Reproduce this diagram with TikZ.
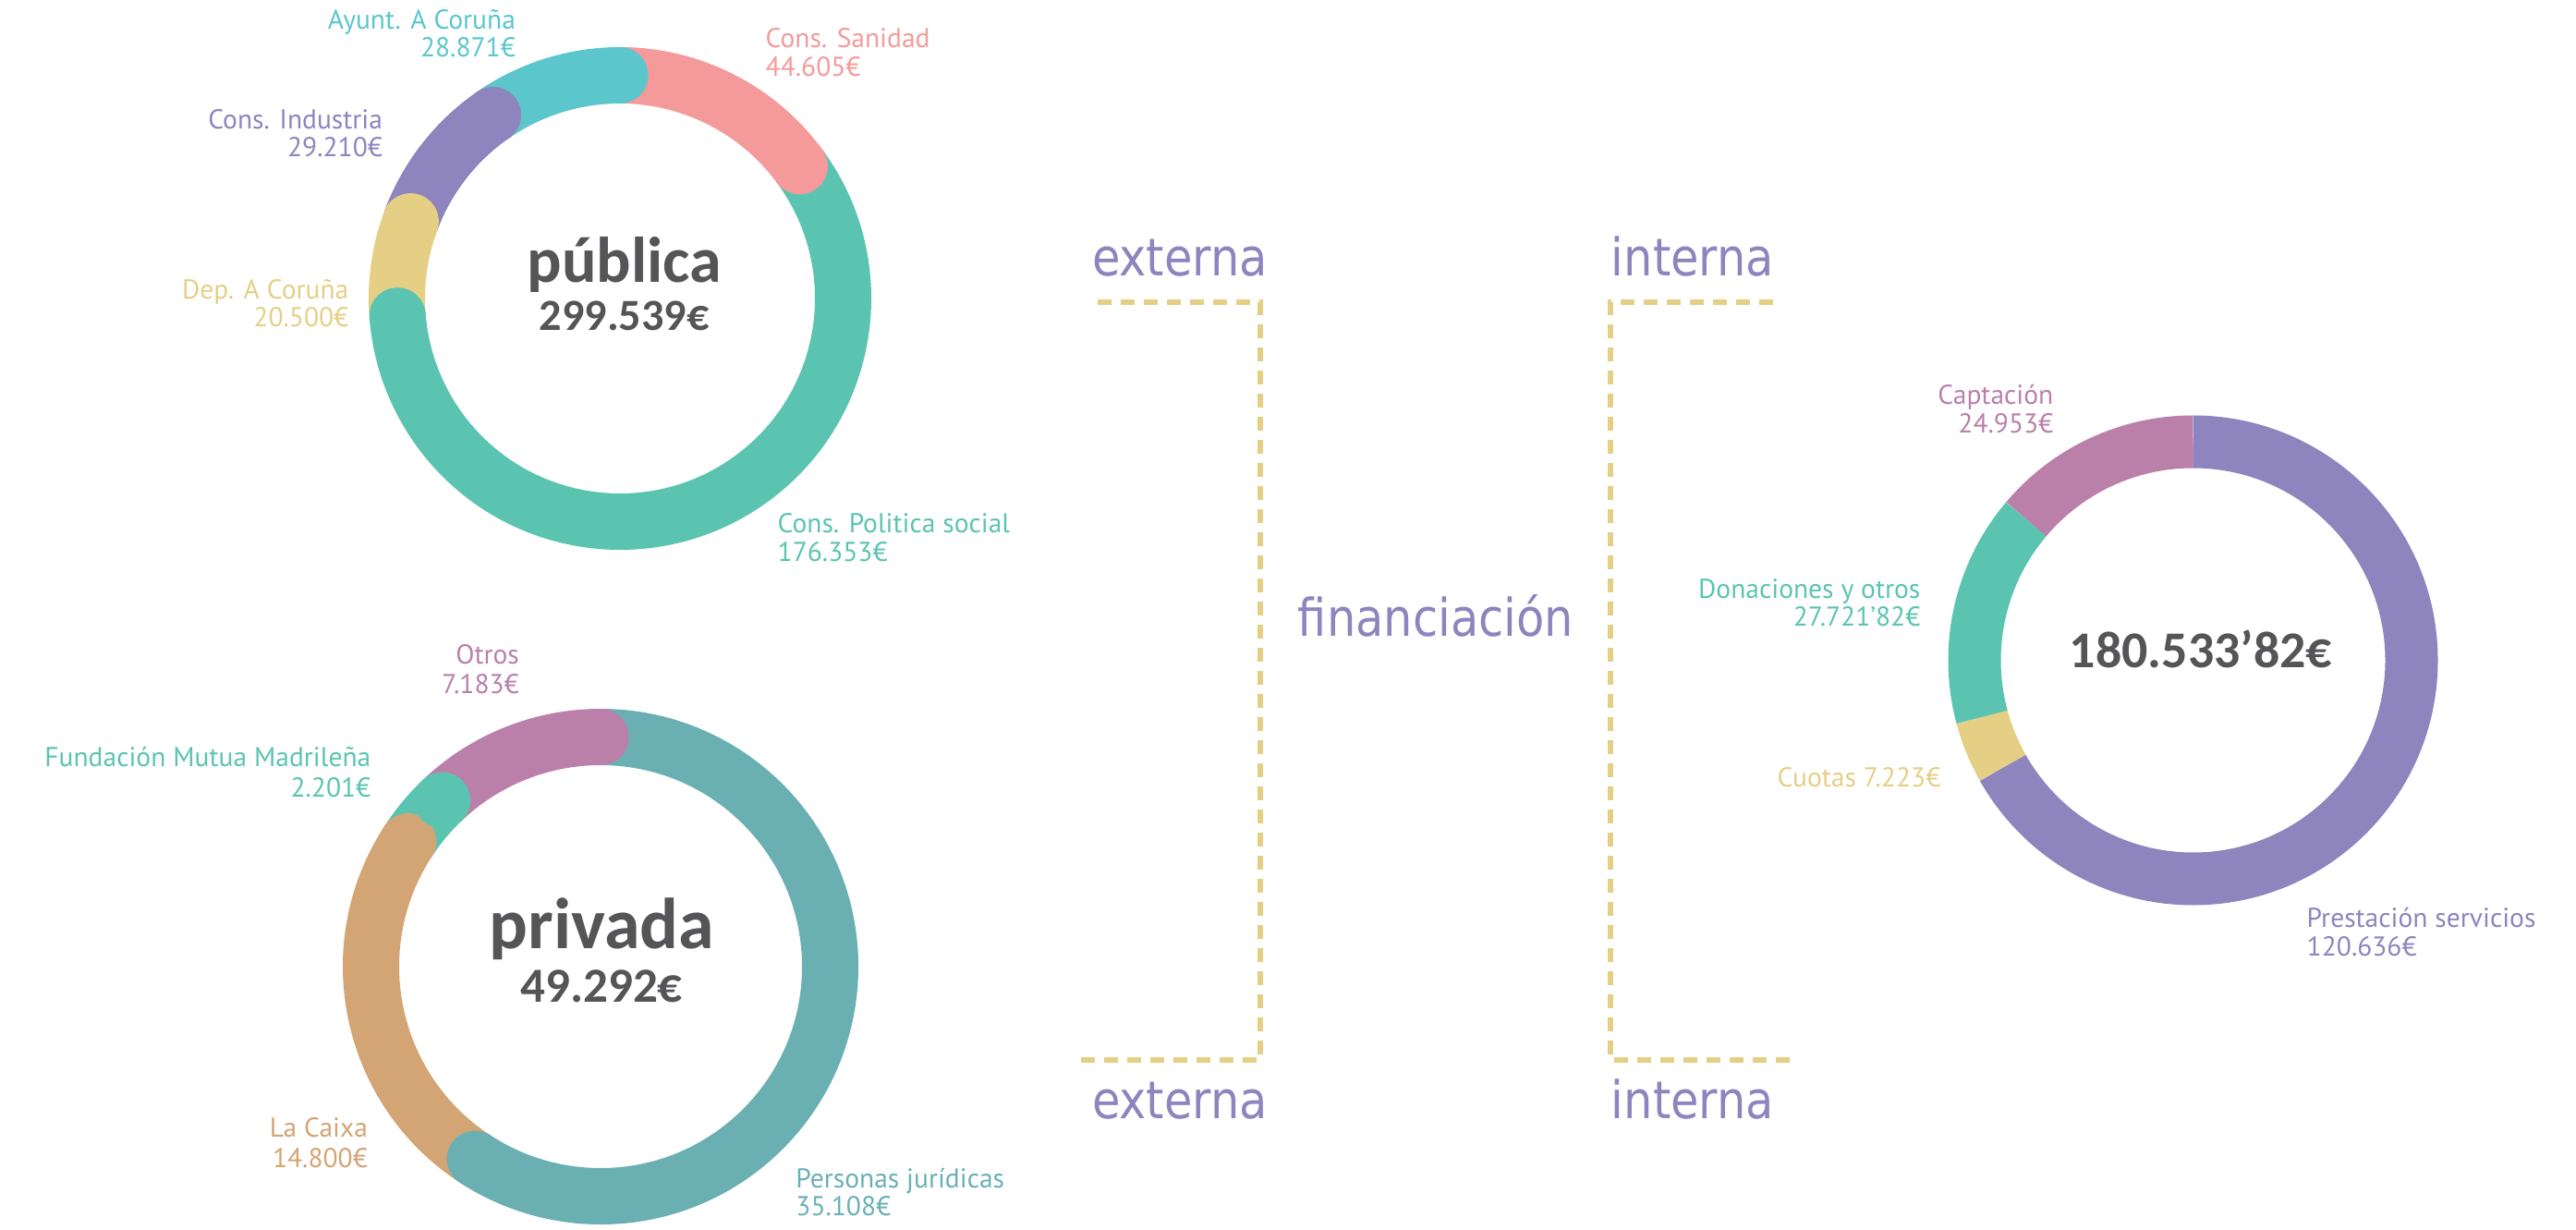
\documentclass[tikz,border=0pt]{standalone}
\usepackage{fontspec}
\usepackage{xcolor}
\usepackage{tikz}
\usetikzlibrary{positioning}
\setmainfont{PT Sans}
\newfontfamily\tagfont{PT Sans}
\newfontfamily\totalfont{Carlito}
\newfontfamily\flowfont[FakeStretch=0.88]{DejaVu Sans}
\definecolor{cyanseg}{HTML}{5BC6CC}
\definecolor{pinkseg}{HTML}{F49A9A}
\definecolor{purpleseg}{HTML}{8E84BE}
\definecolor{yellowseg}{HTML}{E5CF85}
\definecolor{greenseg}{HTML}{5BC4B1}
\definecolor{mauveseg}{HTML}{BA80AA}
\definecolor{blueseg}{HTML}{6AB0B3}
\definecolor{tanseg}{HTML}{D4A574}
\definecolor{totalgrey}{HTML}{555557}
\tikzset{
    tag/.style = {font=\tagfont\fontsize{8.4}{9.5}\selectfont, inner sep=0pt},
    total/.style = {font=\totalfont\bfseries, text=totalgrey, inner sep=0pt},
    flow/.style = {font=\flowfont\fontsize{16}{18}\selectfont, text=purpleseg, inner sep=0pt},
    ring/.style = {line width=6.1mm},
    thinring/.style = {line width=5.7mm},
    bracket/.style = {draw=yellowseg, line width=0.6mm, dash pattern=on 1.5mm off 1mm}
}

\begin{document}
\begin{tikzpicture}
    \useasboundingbox (0,0) rectangle (27.88,13.30);

    % publica
    \coordinate (pub) at (6.71,10.07);
    \foreach \a/\b/\c in {90/36.39/pinkseg, 36.39/-175.56/greenseg, -175.56/-200.20/yellowseg, -200.20/-235.31/purpleseg, -235.31/-270/cyanseg}
        \draw[ring, \c] (pub) ++(\a:2.415) arc[start angle=\a, end angle=\b, radius=2.415];
    \foreach \b/\c in {36.39/pinkseg, -175.56/greenseg, -200.20/yellowseg, -235.31/purpleseg, -270/cyanseg}
        \fill[\c] (pub) ++(\b:2.415) circle[radius=0.305];
    \node[total, font=\totalfont\bfseries\fontsize{19.9}{22}\selectfont, anchor=base] (pubname) at (6.76,10.24) {pública};
    \node[total, font=\totalfont\bfseries\fontsize{13.7}{15}\selectfont, anchor=base] (pubsum) at (6.757,9.723) {299.539€};

    \node[tag, cyanseg, anchor=base east] (ayunt) at (5.586,12.98) {Ayunt. A Coruña};
    \node[tag, cyanseg, anchor=base east] (ayuntv) at ([yshift=-0.30cm]ayunt.base east) {28.871€};
    \node[tag, pinkseg, anchor=base west] (sanidad) at (8.28,12.78) {Cons. Sanidad};
    \node[tag, pinkseg, anchor=base west] (sanidadv) at ([yshift=-0.31cm]sanidad.base west) {44.605€};
    \node[tag, purpleseg, anchor=base east] (industria) at (4.147,11.90) {Cons. Industria};
    \node[tag, purpleseg, anchor=base east] (industriav) at ([yshift=-0.30cm]industria.base east) {29.210€};
    \node[tag, yellowseg, anchor=base east] (dep) at (3.78,10.06) {Dep. A Coruña};
    \node[tag, yellowseg, anchor=base east] (depv) at ([yshift=-0.30cm]dep.base east) {20.500€};
    \node[tag, greenseg, anchor=base west] (politica) at (8.41,7.53) {Cons. Politica social};
    \node[tag, greenseg, anchor=base west] (politicav) at ([yshift=-0.31cm]politica.base west) {176.353€};

    % privada
    \coordinate (priv) at (6.50,2.84);
    \foreach \a/\b/\c in {90/-123.16/blueseg, -123.16/-213.02/tanseg, -213.02/-226.38/greenseg, -226.38/-270/mauveseg}
        \draw[ring, \c] (priv) ++(\a:2.485) arc[start angle=\a, end angle=\b, radius=2.485];
    \foreach \b/\c in {-123.16/blueseg, -213.02/tanseg, -226.38/greenseg, -270/mauveseg}
        \fill[\c] (priv) ++(\b:2.485) circle[radius=0.305];
    \node[total, font=\totalfont\bfseries\fontsize{22.2}{24}\selectfont, anchor=base] (privname) at (6.515,3.04) {privada};
    \node[total, font=\totalfont\bfseries\fontsize{15.1}{17}\selectfont, anchor=base] (privsum) at (6.51,2.46) {49.292€};

    \node[tag, mauveseg, anchor=base east] (otros) at (5.625,6.12) {Otros};
    \node[tag, mauveseg, anchor=base east] (otrosv) at ([yshift=-0.33cm]otros.base east) {7.183€};
    \node[tag, greenseg, anchor=base east] (mutua) at (4.02,5.01) {Fundación Mutua Madrileña};
    \node[tag, greenseg, anchor=base east] (mutuav) at ([yshift=-0.33cm]mutua.base east) {2.201€};
    \node[tag, tanseg, anchor=base east] (caixa) at (3.986,0.994) {La Caixa};
    \node[tag, tanseg, anchor=base east] (caixav) at ([yshift=-0.33cm]caixa.base east) {14.800€};
    \node[tag, blueseg, anchor=base west] (personas) at (8.607,0.45) {Personas jurídicas};
    \node[tag, blueseg, anchor=base west] (personasv) at ([yshift=-0.30cm]personas.base west) {35.108€};

    % interna
    \coordinate (intr) at (23.735,6.155);
    \foreach \a/\b/\c in {90/-150.56/purpleseg, -150.56/-164.96/yellowseg, -164.96/-220.24/greenseg, -220.24/-270/mauveseg}
        \draw[thinring, \c] (intr) ++(\a:2.365) arc[start angle=\a, end angle=\b, radius=2.365];
    \node[total, font=\totalfont\bfseries\fontsize{15.9}{18}\selectfont, anchor=base] (intsum) at (23.82,6.07) {180.533’82€};

    \node[tag, mauveseg, anchor=base east] (captacion) at (22.23,8.92) {Captación};
    \node[tag, mauveseg, anchor=base east] (captacionv) at ([yshift=-0.31cm]captacion.base east) {24.953€};
    \node[tag, greenseg, anchor=base east] (donaciones) at (20.79,6.82) {Donaciones y otros};
    \node[tag, greenseg, anchor=base east] (donacionesv) at ([yshift=-0.30cm]donaciones.base east) {27.721’82€};
    \node[tag, yellowseg, anchor=base east] (cuotas) at (21.01,4.79) {Cuotas 7.223€};
    \node[tag, purpleseg, anchor=base west] (prestacion) at (24.96,3.27) {Prestación servicios};
    \node[tag, purpleseg, anchor=base west] (prestacionv) at ([yshift=-0.31cm]prestacion.base west) {120.636€};

    % brackets
    \coordinate (lt) at (11.88,10.03);
    \coordinate (ltc) at (13.64,10.03);
    \coordinate (lbc) at (13.64,1.83);
    \coordinate (lb) at (11.65,1.83);
    \coordinate (rt) at (19.19,10.03);
    \coordinate (rtc) at (17.43,10.03);
    \coordinate (rbc) at (17.43,1.83);
    \coordinate (rb) at (19.40,1.83);
    \draw[bracket] (lt) -- (ltc) -- (lbc) -- (lb);
    \draw[bracket] (rt) -- (rtc) -- (rbc) -- (rb);

    \node[flow, anchor=base] (exttop) at (12.77,10.31) {externa};
    \node[flow, anchor=base] (inttop) at (18.32,10.31) {interna};
    \node[flow, anchor=base] (extbot) at (12.77,1.20) {externa};
    \node[flow, anchor=base] (intbot) at (18.32,1.20) {interna};
    \node[flow, anchor=base] (fin) at (15.54,6.42) {financiación};
\end{tikzpicture}
\end{document}
